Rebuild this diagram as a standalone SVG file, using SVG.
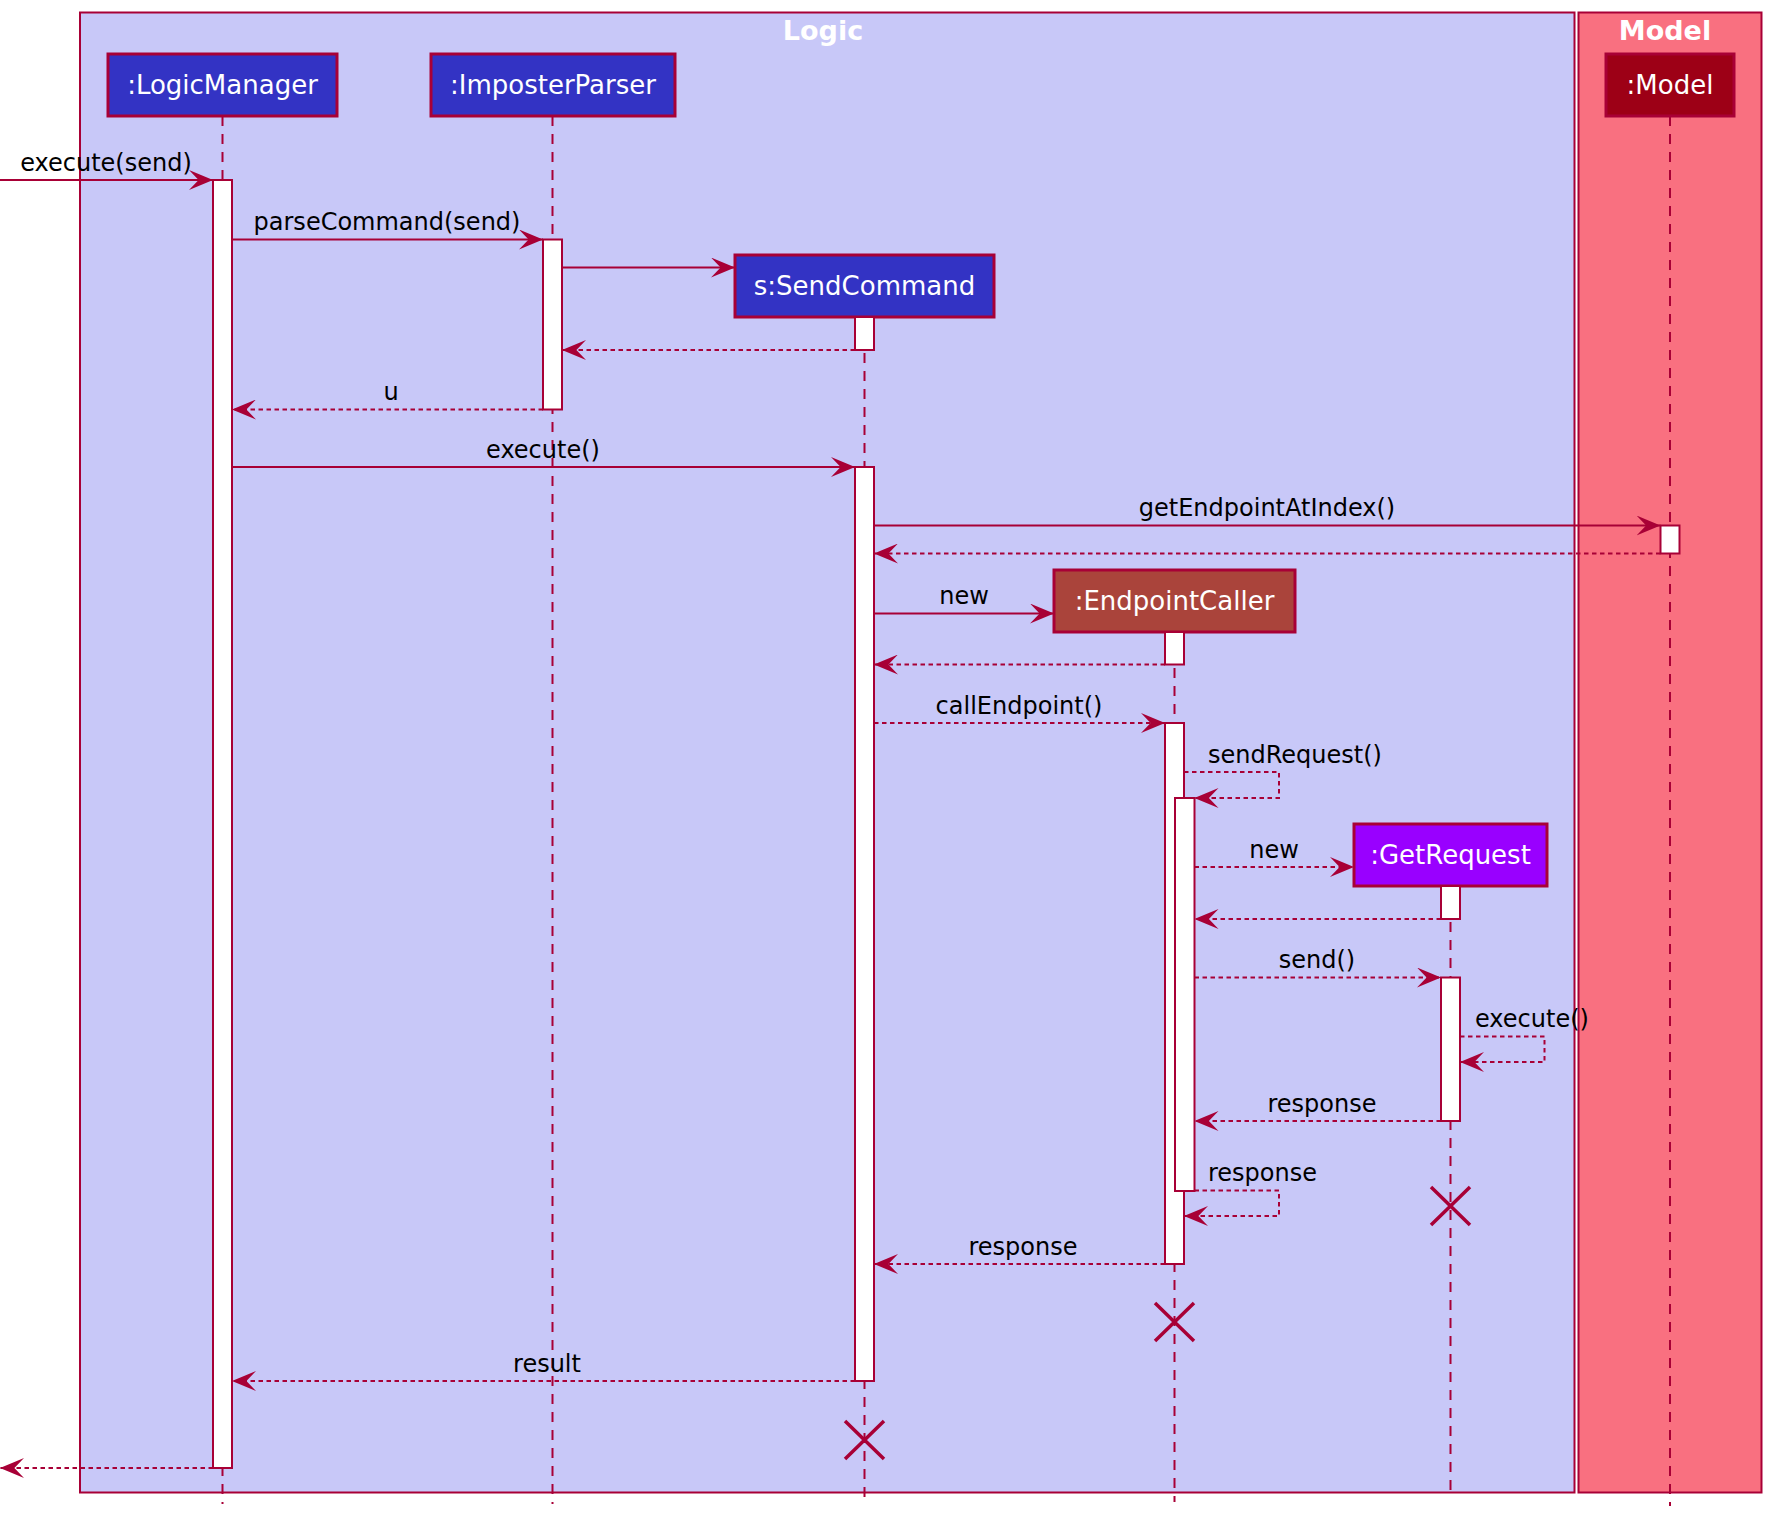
<svg xmlns="http://www.w3.org/2000/svg" width="1772" height="1516" viewBox="0 0 1772 1516">
  <style>
    .frame { stroke: #A80036; stroke-width: 2; }
    .title { font-family: "DejaVu Sans", sans-serif; font-weight: bold; font-size: 27px; fill: #FFFFFF; text-anchor: middle; }
    .pbox { stroke: #A80036; stroke-width: 3; }
    .pname { font-family: "DejaVu Sans", sans-serif; font-size: 26px; fill: #FFFFFF; text-anchor: middle; }
    .life { stroke: #A80036; stroke-width: 2; stroke-dasharray: 10 8; fill: none; }
    .act { fill: #FFFFFF; stroke: #A80036; stroke-width: 2; }
    .msg { stroke: #A80036; stroke-width: 2; fill: none; marker-end: url(#arrow); }
    .ret { stroke-dasharray: 4.5 3.5; }
    .lbl { font-family: "DejaVu Sans", sans-serif; font-size: 24px; fill: #000000; }
    .mid { text-anchor: middle; }
    .kill { stroke: #A80036; stroke-width: 3.5; fill: none; }
  </style>
  <defs>
    <marker id="arrow" viewBox="0 0 24 20" refX="24" refY="10" markerWidth="24" markerHeight="20" markerUnits="userSpaceOnUse" orient="auto">
      <path d="M0,0 L24,10 L0,20 L9.6,10 Z" fill="#A80036"/>
    </marker>
  </defs>

  <rect width="1772" height="1516" fill="#FFFFFF"/>

  <!-- package boxes -->
  <g id="box-logic">
    <rect class="frame" x="80" y="12.5" width="1494.5" height="1480" fill="#C8C8F8"/>
    <text class="title" x="823" y="40">Logic</text>
  </g>
  <g id="box-model">
    <rect class="frame" x="1578.5" y="12.5" width="183" height="1480" fill="#F97080"/>
    <text class="title" x="1665" y="40">Model</text>
  </g>

  <!-- participants with their lifelines and activation bars -->
  <g id="logicManager">
    <line class="life" x1="222.5" y1="116" x2="222.5" y2="1504"/>
    <rect class="pbox" x="108" y="54" width="229" height="62" fill="#3333C4"/>
    <text class="pname" x="222.5" y="94">:LogicManager</text>
    <rect class="act" x="213" y="180" width="19" height="1288"/>
  </g>

  <g id="imposterParser">
    <line class="life" x1="552.5" y1="116" x2="552.5" y2="1504"/>
    <rect class="pbox" x="431" y="54" width="244" height="62" fill="#3333C4"/>
    <text class="pname" x="553" y="94">:ImposterParser</text>
    <rect class="act" x="543" y="239.5" width="19" height="170"/>
  </g>

  <g id="sendCommand">
    <line class="life" x1="864.5" y1="317" x2="864.5" y2="1504"/>
    <rect class="pbox" x="735" y="255" width="259" height="62" fill="#3333C4"/>
    <text class="pname" x="864.5" y="295">s:SendCommand</text>
    <rect class="act" x="855" y="317" width="19" height="33"/>
    <rect class="act" x="855" y="467" width="19" height="914"/>
    <path class="kill" d="M845,1421 L884,1459 M884,1421 L845,1459"/>
  </g>

  <g id="endpointCaller">
    <line class="life" x1="1174.5" y1="632" x2="1174.5" y2="1502"/>
    <rect class="pbox" x="1054" y="570" width="241" height="62" fill="#AA443B"/>
    <text class="pname" x="1174.5" y="610">:EndpointCaller</text>
    <rect class="act" x="1165" y="632" width="19" height="32.5"/>
    <rect class="act" x="1165" y="723" width="19" height="541"/>
    <rect class="act" x="1175" y="798" width="19.5" height="393"/>
    <path class="kill" d="M1155,1303 L1194,1341 M1194,1303 L1155,1341"/>
  </g>

  <g id="getRequest">
    <line class="life" x1="1450.5" y1="886" x2="1450.5" y2="1498"/>
    <rect class="pbox" x="1354" y="824" width="193" height="62" fill="#9900FF"/>
    <text class="pname" x="1450.5" y="864">:GetRequest</text>
    <rect class="act" x="1441" y="886" width="19" height="33"/>
    <rect class="act" x="1441" y="977.5" width="19" height="143.5"/>
    <path class="kill" d="M1431,1187 L1470,1225 M1470,1187 L1431,1225"/>
  </g>

  <g id="model">
    <line class="life" x1="1670" y1="116" x2="1670" y2="1506"/>
    <rect class="pbox" x="1606" y="54" width="128" height="62" fill="#9D0016"/>
    <text class="pname" x="1670" y="94">:Model</text>
    <rect class="act" x="1660.5" y="525.5" width="19" height="28"/>
  </g>

  <!-- messages -->
  <g id="messages">
    <path class="msg" d="M0,180 H213"/>
    <path class="msg" d="M232,239.5 H543"/>
    <path class="msg" d="M562,267.5 H735"/>
    <path class="msg ret" d="M855,350 H562"/>
    <path class="msg ret" d="M543,409.5 H232"/>
    <path class="msg" d="M232,467 H855"/>
    <path class="msg" d="M874,525.5 H1660.5"/>
    <path class="msg ret" d="M1660.5,553.5 H874"/>
    <path class="msg" d="M874,613.5 H1054"/>
    <path class="msg ret" d="M1165,664.5 H874"/>
    <path class="msg ret" d="M874,723 H1165"/>
    <path class="msg ret" d="M1184,772 H1279 V798 H1194.5"/>
    <path class="msg ret" d="M1194.5,867 H1354"/>
    <path class="msg ret" d="M1441,919 H1194.5"/>
    <path class="msg ret" d="M1194.5,977.5 H1441"/>
    <path class="msg ret" d="M1460,1036.5 H1544.5 V1062 H1460"/>
    <path class="msg ret" d="M1441,1121 H1194.5"/>
    <path class="msg ret" d="M1194.5,1190.5 H1279 V1216 H1184"/>
    <path class="msg ret" d="M1165,1264 H874"/>
    <path class="msg ret" d="M855,1381 H232"/>
    <path class="msg ret" d="M213,1468 H0"/>

    <text class="lbl mid" x="106" y="170.5">execute(send)</text>
    <text class="lbl mid" x="387" y="230">parseCommand(send)</text>
    <text class="lbl mid" x="391" y="400">u</text>
    <text class="lbl mid" x="543" y="457.5">execute()</text>
    <text class="lbl mid" x="1267" y="516">getEndpointAtIndex()</text>
    <text class="lbl mid" x="964" y="604">new</text>
    <text class="lbl mid" x="1019" y="713.5">callEndpoint()</text>
    <text class="lbl" x="1208" y="763">sendRequest()</text>
    <text class="lbl mid" x="1274" y="857.5">new</text>
    <text class="lbl mid" x="1317" y="968">send()</text>
    <text class="lbl" x="1475" y="1027">execute()</text>
    <text class="lbl mid" x="1322" y="1111.5">response</text>
    <text class="lbl" x="1208" y="1180.5">response</text>
    <text class="lbl mid" x="1023" y="1254.5">response</text>
    <text class="lbl mid" x="547" y="1371.5">result</text>
  </g>
</svg>
